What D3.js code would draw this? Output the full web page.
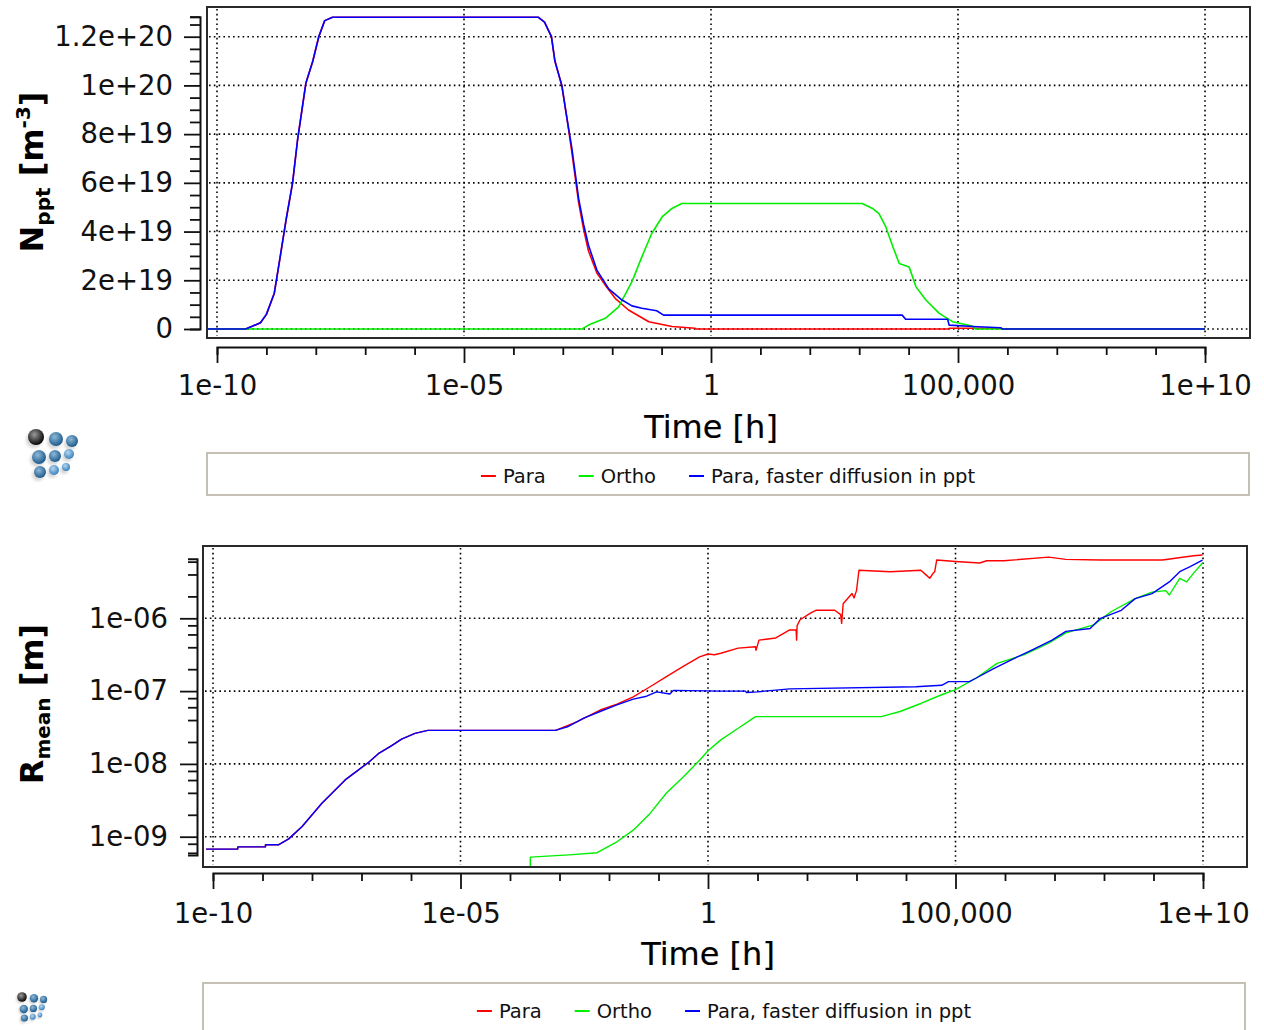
<!DOCTYPE html>
<html><head><meta charset="utf-8">
<script src="https://cdn.jsdelivr.net/npm/d3@7"></script>
<style>html,body{margin:0;padding:0;background:#fff;} svg{display:block;}</style>
</head><body>
<svg id="c" width="1264" height="1030"></svg>
<script>
// ---------------- data ----------------
const timeTickValues = [1e-10, 1e-5, 1, 1e5, 1e10];
const timeTickLabels = ["1e-10", "1e-05", "1", "100,000", "1e+10"];
const nTickValues = [0, 2e19, 4e19, 6e19, 8e19, 1e20, 1.2e20];
const nTickLabels = ["0", "2e+19", "4e+19", "6e+19", "8e+19", "1e+20", "1.2e+20"];
const rTickValues = [1e-9, 1e-8, 1e-7, 1e-6];
const rTickLabels = ["1e-09", "1e-08", "1e-07", "1e-06"];
const seriesNames = ["Para", "Ortho", "Para, faster diffusion in ppt"];
const seriesColors = ["#ff0000", "#00ee00", "#0000ff"];

// Number density N_ppt: [log10(time / h), N in units of 1e19 m^-3]
const nPara = [[-10.2,0],[-9.42,0],[-9.3,0.1],[-9.12,0.26],[-9.0,0.6],[-8.84,1.47],[-8.71,3.1],[-8.6,4.5],[-8.47,6.0],[-8.37,7.75],[-8.2,10.1],[-8.06,11.0],[-7.94,12.0],[-7.82,12.66],[-7.66,12.8],[-3.5,12.8],[-3.37,12.6],[-3.23,12.0],[-3.16,11.0],[-3.02,10.0],[-2.92,8.7],[-2.82,7.3],[-2.68,5.2],[-2.58,4.1],[-2.48,3.2],[-2.31,2.3],[-2.14,1.8],[-1.94,1.26],[-1.67,0.78],[-1.26,0.3],[-0.79,0.1],[-0.32,0.03],[-0.3,0],[4.8,0],[4.82,0.03],[5.87,0.03],[5.9,0],[10,0]];
const nOrtho = [[-10.2,0],[-2.61,0],[-2.48,0.16],[-2.14,0.44],[-1.87,0.91],[-1.6,1.94],[-1.4,2.96],[-1.2,3.92],[-0.99,4.6],[-0.79,4.95],[-0.59,5.15],[3.06,5.15],[3.27,4.95],[3.4,4.74],[3.54,4.19],[3.67,3.44],[3.81,2.69],[4.01,2.55],[4.15,1.73],[4.35,1.19],[4.62,0.64],[4.89,0.3],[5.29,0.12],[5.35,0],[10,0]];
const nParaFast = [[-10.2,0],[-9.42,0],[-9.3,0.1],[-9.12,0.26],[-9.0,0.6],[-8.84,1.47],[-8.71,3.1],[-8.6,4.5],[-8.47,6.0],[-8.37,7.75],[-8.2,10.1],[-8.06,11.0],[-7.94,12.0],[-7.82,12.66],[-7.66,12.8],[-3.5,12.8],[-3.37,12.6],[-3.23,12.0],[-3.16,11.0],[-3.02,10.0],[-2.92,8.7],[-2.82,7.47],[-2.68,5.36],[-2.58,4.3],[-2.48,3.44],[-2.31,2.42],[-2.07,1.65],[-1.8,1.19],[-1.6,0.95],[-1.4,0.85],[-1.1,0.75],[-0.96,0.57],[3.87,0.57],[3.94,0.4],[4.79,0.4],[4.82,0.16],[5.3,0.1],[5.87,0.05],[5.9,0],[10,0]];

// Mean radius R_mean: [log10(time / h), log10(R / m)]
const rPara = [[-10.14,-9.17],[-9.5,-9.17],[-9.5,-9.14],[-8.94,-9.14],[-8.94,-9.11],[-8.67,-9.11],[-8.47,-9.03],[-8.2,-8.86],[-7.8,-8.54],[-7.33,-8.22],[-6.86,-7.98],[-6.66,-7.86],[-6.39,-7.75],[-6.19,-7.66],[-5.92,-7.58],[-5.66,-7.54],[-3.08,-7.54],[-2.64,-7.42],[-2.18,-7.26],[-1.84,-7.18],[-1.51,-7.08],[-1.17,-6.94],[-0.84,-6.8],[-0.5,-6.66],[-0.17,-6.53],[0,-6.49],[0.13,-6.5],[0.26,-6.48],[0.61,-6.41],[0.96,-6.39],[0.97,-6.44],[1.03,-6.3],[1.37,-6.27],[1.65,-6.16],[1.78,-6.16],[1.79,-6.3],[1.8,-6.1],[1.86,-6.02],[2.07,-5.93],[2.18,-5.89],[2.56,-5.89],[2.68,-5.95],[2.7,-6.07],[2.73,-5.8],[2.91,-5.66],[2.95,-5.72],[3.0,-5.62],[3.05,-5.34],[3.68,-5.36],[4.3,-5.34],[4.4,-5.4],[4.48,-5.45],[4.55,-5.38],[4.58,-5.36],[4.62,-5.2],[5,-5.22],[5.49,-5.24],[5.63,-5.21],[5.98,-5.21],[6.88,-5.16],[7.23,-5.19],[7.93,-5.2],[9.18,-5.2],[9.81,-5.14],[9.99,-5.13]];
const rOrtho = [[-3.59,-10.5],[-3.59,-9.28],[-2.81,-9.25],[-2.24,-9.22],[-1.84,-9.07],[-1.51,-8.91],[-1.17,-8.68],[-0.84,-8.4],[-0.5,-8.18],[-0.17,-7.95],[0,-7.82],[0.26,-7.67],[0.61,-7.51],[0.96,-7.35],[3.5,-7.35],[3.88,-7.28],[4.3,-7.17],[4.72,-7.05],[5,-6.98],[5.42,-6.82],[5.84,-6.62],[6.39,-6.5],[6.88,-6.34],[7.23,-6.2],[7.79,-6.09],[8.14,-5.91],[8.63,-5.73],[8.97,-5.64],[9.25,-5.62],[9.32,-5.68],[9.53,-5.45],[9.67,-5.5],[9.81,-5.38],[9.99,-5.24]];
const rParaFast = [[-10.14,-9.17],[-9.5,-9.17],[-9.5,-9.14],[-8.94,-9.14],[-8.94,-9.11],[-8.67,-9.11],[-8.47,-9.03],[-8.2,-8.86],[-7.8,-8.54],[-7.33,-8.22],[-6.86,-7.98],[-6.66,-7.86],[-6.39,-7.75],[-6.19,-7.66],[-5.92,-7.58],[-5.66,-7.54],[-3.08,-7.54],[-2.84,-7.49],[-2.51,-7.37],[-2.18,-7.28],[-1.84,-7.19],[-1.51,-7.11],[-1.24,-7.07],[-1.04,-7.01],[-0.77,-7.04],[-0.7,-6.99],[0.26,-7.0],[0.75,-7.0],[0.78,-7.02],[1.0,-7.01],[1.65,-6.97],[4.2,-6.94],[4.72,-6.92],[4.86,-6.87],[5.28,-6.87],[5.42,-6.82],[5.77,-6.69],[6.19,-6.55],[6.53,-6.44],[6.95,-6.30],[7.23,-6.18],[7.72,-6.14],[7.93,-6.0],[8.35,-5.89],[8.63,-5.73],[8.97,-5.66],[9.32,-5.5],[9.53,-5.36],[9.74,-5.29],[9.99,-5.2]];

// ---------------- drawing ----------------
const svg = d3.select("#c");
const FONT = "'DejaVu Sans',sans-serif";
const defs = svg.append("defs");

function sphereGrad(id, light, dark) {
  const g = defs.append("radialGradient").attr("id", id).attr("cx", "40%").attr("cy", "35%").attr("r", "65%");
  g.append("stop").attr("offset", "0%").attr("stop-color", light);
  g.append("stop").attr("offset", "100%").attr("stop-color", dark);
}
sphereGrad("sBlack", "#9a9a9a", "#050505");
sphereGrad("sBlue", "#8fb8d8", "#1d5b8c");
sphereGrad("sBlueL", "#b6d6ee", "#3a82bf");
defs.append("filter").attr("id", "blur").append("feGaussianBlur").attr("stdDeviation", 1.6);

function logo(cx, cy, s) {
  const g = svg.append("g").attr("transform", `translate(${cx},${cy}) scale(${s})`);
  const balls = [[0,0,8,"sBlack"],[20,2,7,"sBlue"],[36,4,6,"sBlue"],
                 [3,20,7,"sBlue"],[19,19,6,"sBlue"],[33,17,5,"sBlueL"],
                 [4,35,6,"sBlue"],[18,33,5,"sBlueL"],[30,30,4,"sBlueL"]];
  g.selectAll("circle.sh").data(balls).enter().append("circle")
    .attr("cx", d => d[0] - 2).attr("cy", d => d[1] + 3).attr("r", d => d[2])
    .attr("fill", "#bbb").attr("opacity", 0.6).attr("filter", "url(#blur)");
  g.selectAll("circle.b").data(balls).enter().append("circle")
    .attr("cx", d => d[0]).attr("cy", d => d[1]).attr("r", d => d[2])
    .attr("fill", d => `url(#${d[3]})`);
}

function legend(x0, x1, y0, y1, textY) {
  svg.append("rect").attr("x", x0).attr("y", y0).attr("width", x1 - x0).attr("height", y1 - y0)
    .attr("fill", "#fff").attr("stroke", "#c4c1b4").attr("stroke-width", 2);
  const g = svg.append("g");
  let x = 0;
  seriesNames.forEach((name, i) => {
    g.append("line").attr("x1", x).attr("x2", x + 15).attr("y1", textY - 7).attr("y2", textY - 7)
      .attr("stroke", seriesColors[i]).attr("stroke-width", 2);
    const t = g.append("text").attr("x", x + 22).attr("y", textY).text(name)
      .attr("font-family", FONT).attr("font-size", 19.5).attr("fill", "#111");
    x += 22 + t.node().getComputedTextLength() + 33;
  });
  const w = x - 33;
  g.attr("transform", `translate(${(x0 + x1) / 2 - w / 2},0)`);
}

function frame(b) {
  svg.append("rect").attr("x", b.x0).attr("y", b.y0).attr("width", b.x1 - b.x0).attr("height", b.y1 - b.y0)
    .attr("fill", "#fff").attr("stroke", "#2a2a2a").attr("stroke-width", 2);
}
function clip(id, b) {
  defs.append("clipPath").attr("id", id).append("rect")
    .attr("x", b.x0 + 1).attr("y", b.y0 + 1).attr("width", b.x1 - b.x0 - 2).attr("height", b.y1 - b.y0 - 2);
}
function grid(b, x, y, yVals) {
  const g = svg.append("g").attr("stroke", "#000").attr("stroke-width", 1.6).attr("stroke-dasharray", "1.6,3.2");
  timeTickValues.forEach(v => g.append("line").attr("x1", x(v)).attr("x2", x(v)).attr("y1", b.y0 + 2).attr("y2", b.y1 - 2));
  yVals.forEach(v => g.append("line").attr("x1", b.x0 + 2).attr("x2", b.x1 - 2).attr("y1", y(v)).attr("y2", y(v)));
}
function timeAxis(x, yPos, labelDy, titleY) {
  const decades = d3.range(-10, 11).map(e => Math.pow(10, e));
  const isMajor = d => timeTickValues.some(v => Math.abs(Math.log10(v) - Math.log10(d)) < 1e-6);
  const ax = d3.axisBottom(x).tickValues(decades).tickSizeOuter(0).tickSize(8)
    .tickFormat(d => { const i = timeTickValues.findIndex(v => Math.abs(Math.log10(v) - Math.log10(d)) < 1e-6); return i >= 0 ? timeTickLabels[i] : ""; });
  const g = svg.append("g").attr("transform", `translate(0,${yPos})`).call(ax);
  g.select(".domain").attr("stroke", "#111").attr("stroke-width", 2);
  g.selectAll(".tick line").attr("stroke", "#111").attr("stroke-width", 1.8)
    .attr("y2", d => isMajor(d) ? 16 : 8);
  g.selectAll(".tick text").attr("y", labelDy).attr("dy", null)
    .attr("font-family", FONT).attr("font-size", 27.5).attr("fill", "#111");
  svg.append("text").attr("x", x(1)).attr("y", titleY).attr("text-anchor", "middle")
    .attr("font-family", FONT).attr("font-size", 32).attr("fill", "#000").attr("stroke", "#000").attr("stroke-width", 0.2)
    .text("Time [h]");
}

// ===== Top panel: N_ppt =====
const topBox = {x0: 207, x1: 1250, y0: 7, y1: 338};
const xTop = d3.scaleLog().domain([1e-10, 1e10]).range([217, 1205]);
const yTop = d3.scaleLinear().domain([0, 1.2e20]).range([329, 36.7]);
frame(topBox);
clip("clipTop", topBox);
grid(topBox, xTop, yTop, nTickValues);

const lineTop = d3.line().x(d => xTop(Math.pow(10, d[0]))).y(d => yTop(d[1] * 1e19));
const gTop = svg.append("g").attr("clip-path", "url(#clipTop)");
[[nPara, 0], [nOrtho, 1], [nParaFast, 2]].forEach(([s, i]) => {
  gTop.append("path").datum(s).attr("d", lineTop).attr("fill", "none")
    .attr("stroke", seriesColors[i]).attr("stroke-width", 1.6).attr("stroke-linejoin", "round");
});

// top y axis
const nAxisTop = 1.282e20;
const yTopAxisScale = yTop.copy().domain([0, nAxisTop]).range([yTop(0), yTop(nAxisTop)]);
const nMinor = d3.range(0, 1.28e20, 5e18).concat([nAxisTop]);
const yAxTop = d3.axisLeft(yTopAxisScale).tickValues(nMinor).tickSizeOuter(0).tickSize(10)
  .tickFormat(d => { const i = nTickValues.findIndex(v => Math.abs(v - d) < 1e15); return i >= 0 ? nTickLabels[i] : ""; });
const gYTop = svg.append("g").attr("transform", "translate(200,0)").call(yAxTop);
gYTop.select(".domain").attr("stroke", "#111").attr("stroke-width", 2);
gYTop.selectAll(".tick line").attr("stroke", "#111").attr("stroke-width", 1.8)
  .attr("x2", d => nTickValues.some(v => Math.abs(v - d) < 1e15) ? -16 : -10);
gYTop.selectAll(".tick text").attr("x", -27).attr("font-family", FONT).attr("font-size", 27.5).attr("fill", "#111");

timeAxis(xTop, 347, 48, 438);

// N title
const tN = svg.append("text").attr("transform", "translate(43,172) rotate(-90)").attr("text-anchor", "middle")
  .attr("font-family", FONT).attr("font-weight", "bold").attr("font-size", 32).attr("fill", "#000");
tN.append("tspan").text("N");
tN.append("tspan").attr("font-size", 20).attr("dy", 7).text("ppt");
tN.append("tspan").attr("dy", -7).text(" [m");
tN.append("tspan").attr("font-size", 20).attr("dy", -13).text("-3");
tN.append("tspan").attr("dy", 13).text("]");

logo(36, 437, 1);
legend(207, 1249, 453, 495, 483);

// ===== Bottom panel: R_mean =====
const botBox = {x0: 203, x1: 1247, y0: 546, y1: 867};
const xBot = d3.scaleLog().domain([1e-10, 1e10]).range([213, 1203]);
const yBot = d3.scaleLog().domain([1e-9, 1e-6]).range([836.7, 618.3]);
frame(botBox);
clip("clipBot", botBox);
grid(botBox, xBot, yBot, rTickValues);

const lineBot = d3.line().x(d => xBot(Math.pow(10, d[0]))).y(d => yBot(Math.pow(10, d[1])));
const gBot = svg.append("g").attr("clip-path", "url(#clipBot)");
[[rPara, 0], [rOrtho, 1], [rParaFast, 2]].forEach(([s, i]) => {
  gBot.append("path").datum(s).attr("d", lineBot).attr("fill", "none")
    .attr("stroke", seriesColors[i]).attr("stroke-width", 1.4).attr("stroke-linejoin", "round");
});

// bottom y axis
const rLo = 5.6e-10, rHi = 6.6e-6;
const yBotAxisScale = yBot.copy().domain([rLo, rHi]).range([yBot(rLo), yBot(rHi)]);
const rMinor = [];
d3.range(-10, -5).forEach(e => [1, 2, 4, 6, 8].forEach(m => { const v = m * Math.pow(10, e); if (v >= rLo && v <= rHi) rMinor.push(v); }));
const isRMajor = d => rTickValues.some(v => Math.abs(Math.log10(v) - Math.log10(d)) < 1e-6);
const yAxBot = d3.axisLeft(yBotAxisScale).tickValues(rMinor).tickSizeOuter(0).tickSize(9)
  .tickFormat(d => { const i = rTickValues.findIndex(v => Math.abs(Math.log10(v) - Math.log10(d)) < 1e-6); return i >= 0 ? rTickLabels[i] : ""; });
const gYBot = svg.append("g").attr("transform", "translate(197,0)").call(yAxBot);
gYBot.select(".domain").attr("stroke", "#111").attr("stroke-width", 2);
gYBot.selectAll(".tick line").attr("stroke", "#111").attr("stroke-width", 1.8)
  .attr("x2", d => isRMajor(d) ? -17 : -9);
gYBot.selectAll(".tick text").attr("x", -29).attr("font-family", FONT).attr("font-size", 27.5).attr("fill", "#111");

timeAxis(xBot, 873, 50, 965);

const tR = svg.append("text").attr("transform", "translate(43,704) rotate(-90)").attr("text-anchor", "middle")
  .attr("font-family", FONT).attr("font-weight", "bold").attr("font-size", 32).attr("fill", "#000");
tR.append("tspan").text("R");
tR.append("tspan").attr("font-size", 20).attr("dy", 7).text("mean");
tR.append("tspan").attr("dy", -7).text(" [m]");

logo(22, 997, 0.6);
legend(203, 1245, 983, 1040, 1018);
</script>
</body></html>
